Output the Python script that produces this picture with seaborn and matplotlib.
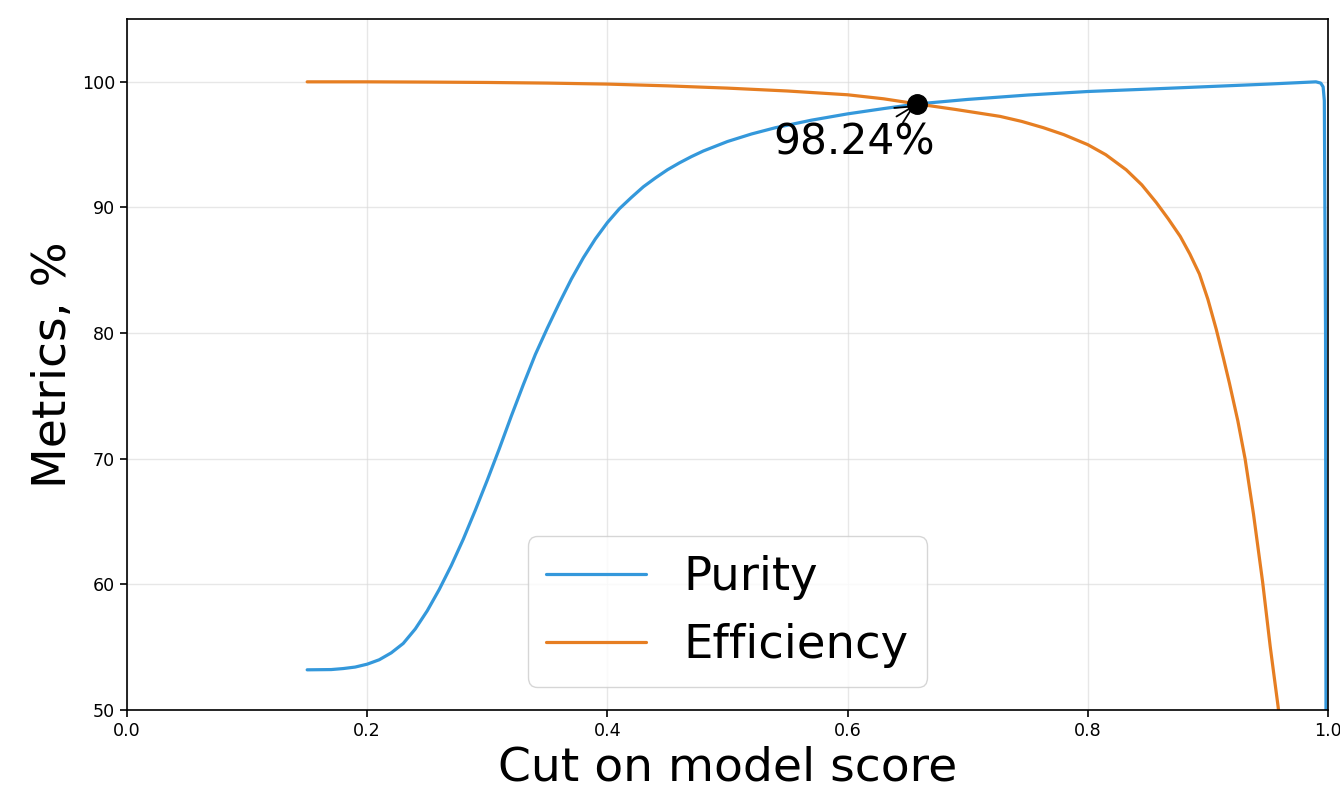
import numpy as np
import seaborn as sns
import matplotlib
matplotlib.use("Agg")
import matplotlib.pyplot as plt

# purity curve
purity_cut = [0.15, 0.17, 0.18, 0.19, 0.20, 0.21, 0.22, 0.23, 0.24, 0.25,
              0.26, 0.27, 0.28, 0.29, 0.30, 0.31, 0.32, 0.33, 0.34, 0.35,
              0.36, 0.37, 0.38, 0.39, 0.40, 0.41, 0.42, 0.43, 0.44, 0.45,
              0.46, 0.47, 0.48, 0.50, 0.52, 0.54, 0.57, 0.60, 0.63, 0.658,
              0.70, 0.75, 0.80, 0.85, 0.90, 0.95, 0.99, 0.994, 0.996, 0.997,
              0.998, 0.9985]
purity = [53.2, 53.22, 53.3, 53.42, 53.65, 54.0, 54.55, 55.3, 56.45, 57.9,
          59.6, 61.5, 63.6, 65.9, 68.3, 70.8, 73.4, 75.9, 78.3, 80.4,
          82.4, 84.3, 86.0, 87.5, 88.8, 89.9, 90.8, 91.65, 92.35, 93.0,
          93.55, 94.05, 94.5, 95.25, 95.85, 96.35, 96.95, 97.45, 97.87, 98.24,
          98.6, 98.95, 99.23, 99.42, 99.62, 99.82, 100.0, 99.9, 99.6, 98.5,
          80.0, 40.0]

# efficiency curve
eff_cut = [0.15, 0.20, 0.25, 0.30, 0.35, 0.40, 0.45, 0.50, 0.55, 0.60,
           0.63, 0.658, 0.69, 0.727, 0.745, 0.763, 0.78, 0.80, 0.815, 0.832,
           0.845, 0.857, 0.867, 0.877, 0.885, 0.893, 0.90, 0.907, 0.913, 0.918,
           0.925, 0.931, 0.938, 0.9456, 0.952, 0.9586, 0.965]
efficiency = [100.0, 100.0, 99.98, 99.95, 99.9, 99.82, 99.68, 99.5, 99.27, 98.97,
              98.65, 98.24, 97.8, 97.25, 96.85, 96.35, 95.8, 95.0, 94.2, 93.0,
              91.8, 90.4, 89.1, 87.7, 86.3, 84.7, 82.7, 80.3, 78.0, 76.0,
              73.0, 70.0, 65.6, 60.2, 55.0, 50.2, 44.5]

# crossing point
best_cut = 0.658
best_value = 98.24

sns.set_style("ticks")
plt.rcParams['font.family'] = ['DejaVu Sans']
plt.rcParams['text.color'] = 'black'
plt.rcParams['axes.labelcolor'] = 'black'
plt.rcParams['xtick.color'] = 'black'
plt.rcParams['ytick.color'] = 'black'

fig, ax = plt.subplots(figsize=(13.4, 7.89), dpi=100)
fig.subplots_adjust(left=0.0948, right=0.991, bottom=0.1001, top=0.9759)

sns.lineplot(x=purity_cut, y=purity, ax=ax, color='#3498db', lw=2.3,
             label='Purity', sort=False)
sns.lineplot(x=eff_cut, y=efficiency, ax=ax, color='#e67e22', lw=2.3,
             label='Efficiency', sort=False)

ax.plot(best_cut, best_value, 'o', color='black', ms=14, zorder=5)
ax.annotate('%.2f%%' % best_value, xy=(best_cut, best_value),
            xytext=(best_cut - 0.12, best_value - 4), fontsize=30.5,
            arrowprops=dict(arrowstyle='->', color='black', lw=1.3))

ax.set_xlim(0, 1)
ax.set_ylim(50, 105)
ax.set_xticks(np.arange(0, 1.01, 0.2))
ax.set_yticks(np.arange(50, 101, 10))
ax.tick_params(labelsize=12.6, width=1.2, length=5)
ax.grid(True, color='#d8d8d8', alpha=0.6, lw=1)
for s in ax.spines.values():
    s.set_visible(True)
    s.set_color('black')
    s.set_linewidth(1.2)

ax.set_xlabel('Cut on model score', fontsize=34)
ax.set_ylabel('Metrics, %', fontsize=34)
ax.legend(loc='lower center', fontsize=33.5, handlelength=2.15)

fig.savefig('out.png', dpi=100)
